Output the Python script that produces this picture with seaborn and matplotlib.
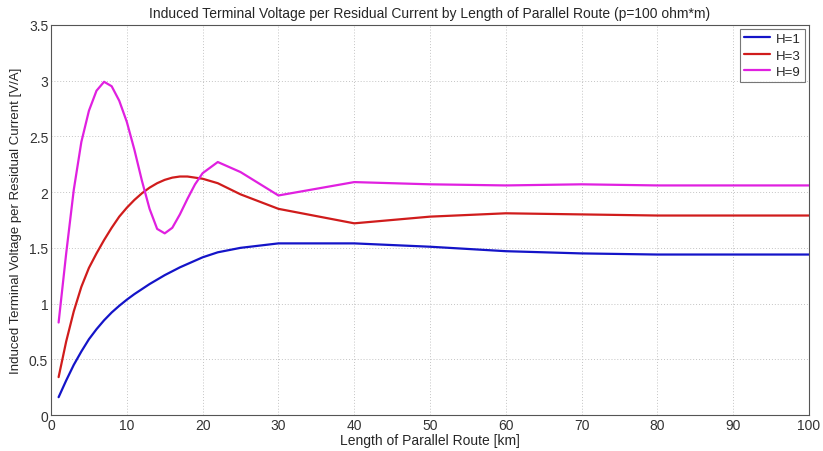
import numpy as np
import pandas as pd
import matplotlib
matplotlib.use("Agg")
import matplotlib.pyplot as plt
import seaborn as sns

# Data
length_km = [1, 2, 3, 4, 5, 6, 7, 8, 9, 10, 11, 12, 13, 14, 15, 16, 17, 18, 19, 20,
             22, 25, 30, 40, 50, 60, 70, 80, 90, 100]
h1 = [0.16, 0.31, 0.45, 0.57, 0.68, 0.77, 0.85, 0.92, 0.98, 1.035, 1.085, 1.13, 1.175, 1.215, 1.255, 1.29, 1.325, 1.355, 1.385, 1.415,
      1.46, 1.50, 1.54, 1.54, 1.51, 1.47, 1.45, 1.44, 1.44, 1.44]
h3 = [0.34, 0.66, 0.93, 1.15, 1.32, 1.45, 1.57, 1.68, 1.78, 1.86, 1.93, 1.99, 2.04, 2.08, 2.11, 2.13, 2.14, 2.14, 2.13, 2.12,
      2.08, 1.98, 1.85, 1.72, 1.78, 1.81, 1.80, 1.79, 1.79, 1.79]
h9 = [0.83, 1.45, 2.02, 2.45, 2.73, 2.91, 2.99, 2.95, 2.82, 2.63, 2.38, 2.10, 1.85, 1.67, 1.63, 1.68, 1.80, 1.94, 2.07, 2.17,
      2.27, 2.18, 1.97, 2.09, 2.07, 2.06, 2.07, 2.06, 2.06, 2.06]
series_names = ["H=1", "H=3", "H=9"]
series_colors = ["#1414c8", "#d01c1c", "#e020e0"]

x_ticks = list(range(0, 101, 10))
y_ticks = [0, 0.5, 1, 1.5, 2, 2.5, 3, 3.5]
y_tick_labels = ["0", "0.5", "1", "1.5", "2", "2.5", "3", "3.5"]

df = pd.DataFrame({
    "x": length_km * 3,
    "y": h1 + h3 + h9,
    "H": [series_names[0]] * len(length_km) + [series_names[1]] * len(length_km) + [series_names[2]] * len(length_km),
})

sns.set_style("white")
plt.rcParams["font.family"] = ["Liberation Sans", "DejaVu Sans"]

fig = plt.figure(figsize=(8.23, 4.52), dpi=100)
ax = fig.add_axes([0.062, 0.0796, 0.921, 0.863])

sns.lineplot(data=df, x="x", y="y", hue="H", palette=series_colors, hue_order=series_names,
             linewidth=1.6, ax=ax, legend=True, sort=False, estimator=None)

ax.set_xlim(0, 100)
ax.set_ylim(0, 3.5)
ax.set_xticks(x_ticks)
ax.set_yticks(y_ticks)
ax.set_yticklabels(y_tick_labels)
ax.grid(True, linestyle=(0, (1, 2)), color="#c4c4c4", linewidth=0.7)
ax.tick_params(direction="in", length=4, labelsize=10, colors="#333333", pad=2)
for s in ax.spines.values():
    s.set_color("#555555")
    s.set_linewidth(0.8)

ax.set_xlabel("Length of Parallel Route [km]", fontsize=10, labelpad=1)
ax.set_ylabel("Induced Terminal Voltage per Residual Current [V/A]", fontsize=9.5, labelpad=5)
ax.set_title("Induced Terminal Voltage per Residual Current by Length of Parallel Route (p=100 ohm*m)",
             fontsize=10, pad=6)

leg = ax.legend(loc="upper right", fontsize=9.5, frameon=True, fancybox=False, handlelength=2.0,
                handletextpad=0.45, borderpad=0.3, labelspacing=0.32, borderaxespad=0.3)
leg.get_frame().set_edgecolor("#555555")
leg.get_frame().set_linewidth(0.8)

fig.savefig("out.png", dpi=100, facecolor="white")
